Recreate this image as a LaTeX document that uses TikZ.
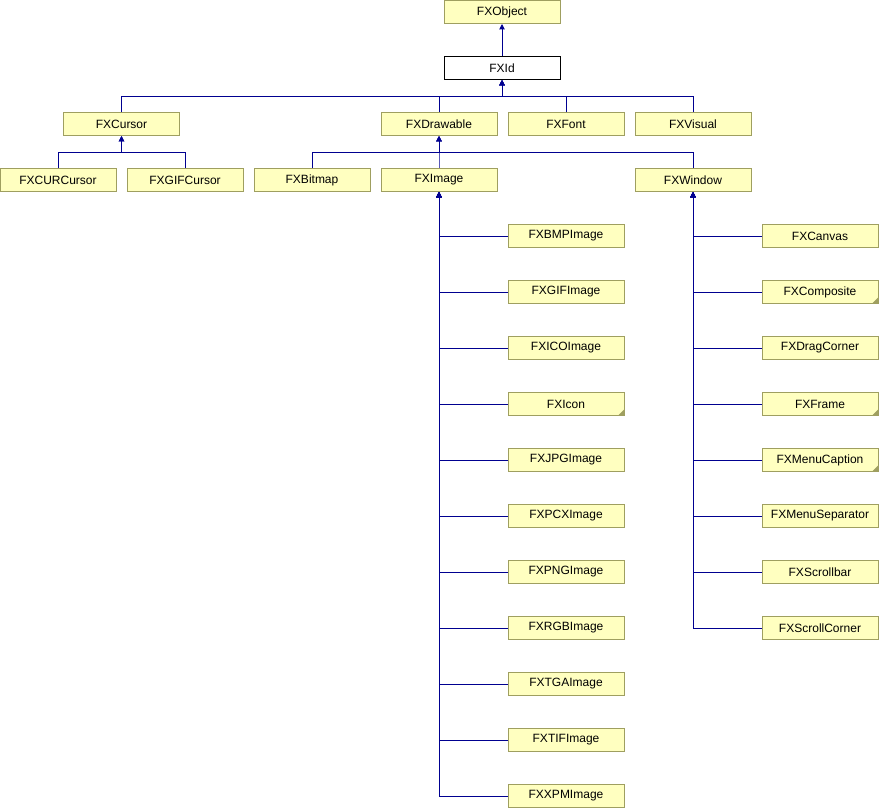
\documentclass[tikz,border=0pt]{standalone}
\usepackage{fontspec}
\setmainfont{Liberation Sans}
\usetikzlibrary{arrows.meta}
\definecolor{boxfill}{HTML}{FFFFC0}
\definecolor{boxline}{HTML}{9F9F60}
\definecolor{inhblue}{HTML}{000090}
\begin{document}
\begin{tikzpicture}[x=0.75pt,y=0.75pt,yscale=-1,xscale=1,
  cls/.style={draw=boxline,fill=boxfill,line width=0.75pt,minimum width=87pt,minimum height=17.25pt,inner sep=0pt,font=\fontsize{9pt}{11pt}\selectfont},
  curcls/.style={cls,draw=black,fill=white},
  inh/.style={draw=inhblue,line width=0.75pt,-{Triangle[width=4pt,length=4pt]}},
  more/.style={fill=boxline}]
\useasboundingbox (0,0) rectangle (879,808);

% Text Node
\node [cls] (FXObject) at (502,12) {FXObject};
% Text Node
\node [curcls] (FXId) at (502,68) {FXId};
% Text Node
\node [cls] (FXCursor) at (121.5,124) {FXCursor};
\node [cls] (FXDrawable) at (439,124) {FXDrawable};
\node [cls] (FXFont) at (566,124) {FXFont};
\node [cls] (FXVisual) at (693,124) {FXVisual};
% Text Node
\node [cls] (FXCURCursor) at (58,180) {FXCURCursor};
\node [cls] (FXGIFCursor) at (185,180) {FXGIFCursor};
\node [cls] (FXBitmap) at (312,180) {FXBitmap};
\node [cls] (FXImage) at (439,180) {FXImage};
\node [cls] (FXWindow) at (693,180) {FXWindow};
% Text Node
\foreach \name [count=\i from 0] in {FXBMPImage,FXGIFImage,FXICOImage,FXIcon,FXJPGImage,FXPCXImage,FXPNGImage,FXRGBImage,FXTGAImage,FXTIFImage,FXXPMImage}
  \node [cls] (\name) at (566,236+56*\i) {\name};
% Text Node
\foreach \name [count=\i from 0] in {FXCanvas,FXComposite,FXDragCorner,FXFrame,FXMenuCaption,FXMenuSeparator,FXScrollbar,FXScrollCorner}
  \node [cls] (\name) at (820,236+56*\i) {\name};

%Shape: Triangle
\foreach \name in {FXIcon,FXComposite,FXFrame,FXMenuCaption}
  \fill [more] ([shift={(-0.5,-0.5)}]\name.south east) -- ++(-6,0) -- ++(6,-6) -- cycle ;

%Bar coordinates
\coordinate (idbar) at (502,96);
\coordinate (cursorbar) at (121.5,152);
\coordinate (drawbar) at (439,152);

%Straight Lines
\draw [inh] (FXId.north) -- (FXObject.south) ;
\foreach \name in {FXCursor,FXDrawable,FXFont,FXVisual}
  \draw [inh] (\name.north) |- (idbar) -- (FXId.south) ;
\foreach \name in {FXCURCursor,FXGIFCursor}
  \draw [inh] (\name.north) |- (cursorbar) -- (FXCursor.south) ;
\foreach \name in {FXBitmap,FXImage,FXWindow}
  \draw [inh] (\name.north) |- (drawbar) -- (FXDrawable.south) ;
\foreach \name in {FXBMPImage,FXGIFImage,FXICOImage,FXIcon,FXJPGImage,FXPCXImage,FXPNGImage,FXRGBImage,FXTGAImage,FXTIFImage,FXXPMImage}
  \draw [inh] (\name.west) -| (FXImage.south) ;
\foreach \name in {FXCanvas,FXComposite,FXDragCorner,FXFrame,FXMenuCaption,FXMenuSeparator,FXScrollbar,FXScrollCorner}
  \draw [inh] (\name.west) -| (FXWindow.south) ;

\end{tikzpicture}
\end{document}
